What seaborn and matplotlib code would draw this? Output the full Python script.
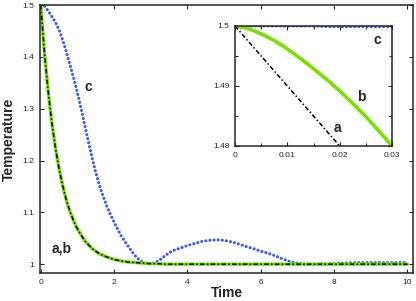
import seaborn as sns
import pandas as pd
import matplotlib.pyplot as plt

# main panel, values
time_ab = [0, 0.1, 0.2, 0.3, 0.4, 0.5, 0.6, 0.7, 0.8, 0.9, 1.0, 1.2, 1.4, 1.6, 1.8,
           2.0, 2.2, 2.4, 2.6, 2.8, 3.0, 3.2, 3.4, 4.0, 5.0, 6.0, 7.0, 8.0, 9.0, 10.0]
temp_a = [1.5, 1.409, 1.335, 1.274, 1.225, 1.184, 1.151, 1.123, 1.101, 1.083, 1.068,
          1.045, 1.030, 1.020, 1.014, 1.009, 1.006, 1.004, 1.003, 1.002, 1.001, 1.001,
          1.0, 1.0, 1.0, 1.0, 1.0, 1.0, 1.0, 1.0]
temp_b = temp_a  # b sits on top of a at this scale

time_c = [0, 0.1, 0.2, 0.3, 0.4, 0.5, 0.6, 0.7, 0.8, 0.9, 1.0, 1.1, 1.2, 1.3, 1.4,
          1.5, 1.6, 1.7, 1.8, 1.9, 2.0, 2.1, 2.2, 2.3, 2.4, 2.5, 2.6, 2.7, 2.8, 2.9,
          3.0, 3.1, 3.2, 3.3, 3.4, 3.5, 3.6, 3.8, 4.0, 4.2, 4.4, 4.6, 4.8, 5.0, 5.2,
          5.4, 5.6, 5.8, 6.0, 6.2, 6.4, 6.6, 6.8, 7.0, 7.2, 7.5, 8.0, 8.5, 9.0, 9.5,
          10.0]
temp_c = [1.5, 1.498, 1.489, 1.478, 1.467, 1.452, 1.432, 1.409, 1.384, 1.358, 1.331,
          1.300, 1.268, 1.236, 1.205, 1.177, 1.152, 1.131, 1.112, 1.096, 1.081, 1.067,
          1.054, 1.043, 1.033, 1.023, 1.014, 1.008, 1.003, 1.001, 1.001, 1.003, 1.006,
          1.011, 1.017, 1.022, 1.026, 1.031, 1.036, 1.040, 1.044, 1.046, 1.047, 1.046,
          1.043, 1.039, 1.034, 1.030, 1.025, 1.021, 1.016, 1.010, 1.005, 1.002, 1.000,
          1.000, 1.001, 1.003, 1.003, 1.003, 1.003]

# inset (early times)
time_inset = [0, 0.0025, 0.005, 0.0075, 0.01, 0.0125, 0.015, 0.0175, 0.02, 0.0225,
              0.025, 0.0275, 0.03]
inset_a = [1.5, 1.4975, 1.495, 1.4925, 1.490, 1.4875, 1.485, 1.4825, 1.480, 1.4775,
           1.475, 1.4725, 1.470]
inset_b = [1.5, 1.4996, 1.4987, 1.4976, 1.4962, 1.4946, 1.4929, 1.4911, 1.4892,
           1.4871, 1.4849, 1.4825, 1.4800]
inset_c = [1.5, 1.5, 1.5, 1.5, 1.5, 1.5, 1.5, 1.4999, 1.4999, 1.4999, 1.4999, 1.4999,
           1.4999]

main_xticks = [0, 2, 4, 6, 8, 10]
main_yticks = [1.0, 1.1, 1.2, 1.3, 1.4, 1.5]
main_ylabels = ['1', '1.1', '1.2', '1.3', '1.4', '1.5']
inset_xticks = [0, 0.01, 0.02, 0.03]
inset_xlabels = ['0', '0.01', '0.02', '0.03']
inset_yticks = [1.48, 1.49, 1.5]
inset_ylabels = ['1.48', '1.49', '1.5']

GREEN = '#7ae000'
BLUE = '#3a5cf0'
DOTS = (0, (0.05, 1.3))
DASHDOT = (0, (3, 1.5, 1, 1.5))

sns.set_style('ticks')
plt.rcParams['font.family'] = ['Liberation Sans', 'DejaVu Sans']

df_ab = pd.DataFrame({'t': time_ab, 'a': temp_a, 'b': temp_b})
df_c = pd.DataFrame({'t': time_c, 'c': temp_c})
ins = pd.DataFrame({'t': time_inset, 'a': inset_a, 'b': inset_b, 'c': inset_c})

fig = plt.figure(figsize=(4.16, 3.01), dpi=100)
ax = fig.add_axes([40 / 416, 1 - 273 / 301, 373 / 416, 268 / 301])

sns.lineplot(data=df_c, x='t', y='c', ax=ax, color=BLUE, lw=2.2,
             linestyle=DOTS, dash_capstyle='round', estimator=None)
sns.lineplot(data=df_ab, x='t', y='b', ax=ax, color=GREEN, lw=2.4, estimator=None)
sns.lineplot(data=df_ab, x='t', y='a', ax=ax, color='black', lw=1.1,
             linestyle=DASHDOT, estimator=None)

ax.set_xlim(-0.02, 10.15)
ax.set_ylim(0.983, 1.5)
ax.set_xticks(main_xticks)
ax.set_xticklabels([str(v) for v in main_xticks])
ax.set_yticks(main_yticks)
ax.set_yticklabels(main_ylabels)
ax.tick_params(direction='in', top=True, right=True, length=3, width=0.8,
               labelsize=6, pad=4)
for s in ax.spines.values():
    s.set_linewidth(1.1)
ax.set_xlabel('Time', fontsize=10, fontweight='bold')
ax.set_ylabel('Temperature', fontsize=10, fontweight='bold')
ax.xaxis.set_label_coords(0.5, -0.05)
ax.yaxis.set_label_coords(-0.066, 0.5)

ax.text(1.29, 1.342, 'c', fontsize=10, fontweight='bold', ha='center', va='center')
ax.text(0.56, 1.03, 'a,b', fontsize=10, fontweight='bold', ha='center', va='center')

# inset
axi = fig.add_axes([235 / 416, 1 - 146 / 301, 157 / 416, 120 / 301])
sns.lineplot(data=ins, x='t', y='c', ax=axi, color=BLUE, lw=2.2,
             linestyle=DOTS, dash_capstyle='round', estimator=None)
sns.lineplot(data=ins, x='t', y='b', ax=axi, color=GREEN, lw=2.6, estimator=None)
sns.lineplot(data=ins, x='t', y='a', ax=axi, color='black', lw=1.1,
             linestyle=DASHDOT, estimator=None)
axi.set_xlim(0, 0.03)
axi.set_ylim(1.48, 1.5)
axi.set_xticks(inset_xticks)
axi.set_xticklabels(inset_xlabels)
axi.set_yticks(inset_yticks)
axi.set_yticklabels(inset_ylabels)
axi.set_xticks([0.005, 0.015, 0.025], minor=True)
axi.set_yticks([1.485, 1.495], minor=True)
axi.tick_params(which='both', direction='in', top=True, right=True, width=0.8,
                labelsize=6, pad=4)
axi.tick_params(which='major', length=3)
axi.tick_params(which='minor', length=2)
for s in axi.spines.values():
    s.set_linewidth(1.1)
axi.set_xlabel('')
axi.set_ylabel('')
axi.text(0.0271, 1.4977, 'c', fontsize=10, fontweight='bold', ha='center', va='center')
axi.text(0.0242, 1.4882, 'b', fontsize=10, fontweight='bold', ha='center', va='center')
axi.text(0.0196, 1.4830, 'a', fontsize=10, fontweight='bold', ha='center', va='center')

fig.savefig('out.png', dpi=100)
plt.close(fig)
